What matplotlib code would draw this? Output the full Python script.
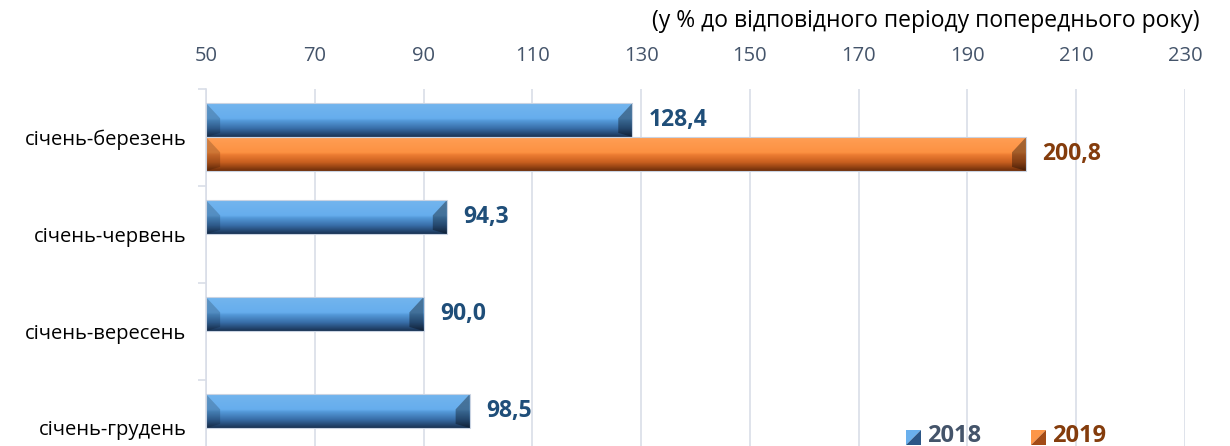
import numpy as np
import matplotlib
matplotlib.use("Agg")
import matplotlib.pyplot as plt
from matplotlib.colors import LinearSegmentedColormap
from matplotlib.patches import Polygon

periods = ["січень-березень", "січень-червень", "січень-вересень", "січень-грудень"]
values_2018 = [128.4, 94.3, 90.0, 98.5]
values_2019 = [200.8, None, None, None]
years = ["2018", "2019"]
ticks = [50, 70, 90, 110, 130, 150, 170, 190, 210, 230]

plt.rcParams['font.family'] = ['Open Sans', 'DejaVu Sans']

blue_map = LinearSegmentedColormap.from_list("b", [
    (0.0, (0.45, 0.71, 0.93)), (0.45, (0.40, 0.68, 0.93)),
    (0.52, (0.33, 0.60, 0.85)), (0.75, (0.22, 0.43, 0.66)),
    (1.0, (0.10, 0.20, 0.33))])
orange_map = LinearSegmentedColormap.from_list("o", [
    (0.0, (1.0, 0.62, 0.33)), (0.45, (0.99, 0.57, 0.26)),
    (0.52, (0.93, 0.49, 0.20)), (0.75, (0.78, 0.37, 0.12)),
    (1.0, (0.43, 0.18, 0.04))])

fig = plt.figure(figsize=(12.3, 4.46), dpi=100)
ax = fig.add_axes([206 / 1230, -30.5 / 446, 979 / 1230, 388 / 446])

h = 0.35
grad = np.linspace(0, 1, 64).reshape(-1, 1)


def bevel_bar(y, val, cmap):
    bar = ax.barh(y, val - 50, left=50, height=h, color="none",
                  edgecolor="#c9d3e2", linewidth=0.8, zorder=3)[0]
    im = ax.imshow(grad, cmap=cmap, aspect="auto", zorder=2,
                   extent=(50, val, y + h / 2, y - h / 2), interpolation="bilinear")
    im.set_clip_path(bar)
    b = 2.6
    top, bot = y - h / 2, y + h / 2
    ax.add_patch(Polygon([(50, top), (50 + b, top + 0.45 * h), (50 + b, bot - 0.12 * h), (50, bot)],
                         closed=True, facecolor="black", alpha=0.18, lw=0, zorder=2.5))
    ax.add_patch(Polygon([(val, top), (val - b, top + 0.45 * h), (val - b, bot - 0.12 * h), (val, bot)],
                         closed=True, facecolor="black", alpha=0.35, lw=0, zorder=2.5))


for i, v in enumerate(values_2018):
    y = i - h / 2
    bevel_bar(y, v, blue_map)
    ax.text(v + 3, y, f"{v:.1f}".replace(".", ","), va="center", ha="left",
            fontsize=16.5, fontweight="bold", color="#1f4e79")
for i, v in enumerate(values_2019):
    if v is None:
        continue
    y = i + h / 2
    bevel_bar(y, v, orange_map)
    ax.text(v + 3, y, f"{v:.1f}".replace(".", ","), va="center", ha="left",
            fontsize=16.5, fontweight="bold", color="#843c0c")

ax.set_xlim(50, 230)
ax.set_ylim(3.5, -0.5)
ax.set_xticks(ticks)
ax.xaxis.tick_top()
ax.tick_params(axis="x", length=0, pad=16, labelsize=14.5, labelcolor="#44546a")
ax.set_yticks([0, 1, 2, 3])
ax.set_yticklabels(periods, fontsize=14.5)
ax.tick_params(axis="y", length=0, pad=14)
ax.set_yticks([-0.5, 0.5, 1.5, 2.5, 3.5], minor=True)
ax.tick_params(axis="y", which="minor", length=6, color="#d9dee8", width=1.2)
ax.grid(axis="x", color="#d9dee8", linewidth=1.2, zorder=0)
ax.set_axisbelow(True)
for s in ["top", "right", "bottom"]:
    ax.spines[s].set_visible(False)
ax.spines["left"].set_color("#d9dee8")
ax.spines["left"].set_linewidth(1.2)

fig.text(1200 / 1230, 1 - 21 / 446, "(у % до відповідного періоду попереднього року)",
         ha="right", va="center", fontsize=16.5, color="black")

# legend squares with a diagonal shade
for x0, year, cmap, col in [(906, years[0], blue_map, "#44546a"), (1031, years[1], orange_map, "#843c0c")]:
    s = 15
    y0 = 430
    pts = lambda p: [(px / 1230, 1 - py / 446) for px, py in p]
    fig.patches.append(Polygon(pts([(x0, y0), (x0 + s, y0), (x0, y0 + s)]), closed=True,
                               transform=fig.transFigure, facecolor=cmap(0.3), lw=0))
    fig.patches.append(Polygon(pts([(x0 + s, y0), (x0 + s, y0 + s), (x0, y0 + s)]), closed=True,
                               transform=fig.transFigure, facecolor=cmap(0.85), lw=0))
    fig.text((x0 + s + 6) / 1230, 1 - 436 / 446, year, ha="left", va="center",
             fontsize=17, fontweight="bold", color=col)

fig.savefig("out.png", dpi=100)
